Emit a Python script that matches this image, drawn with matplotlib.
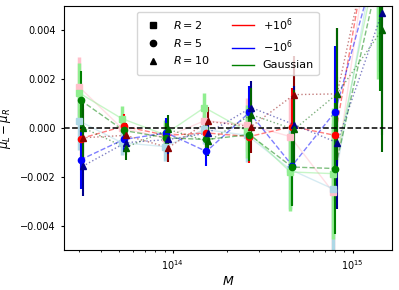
import matplotlib
matplotlib.use("Agg")
import matplotlib.pyplot as plt
from matplotlib.lines import Line2D

# centros de los bines de masa
masa = [3.0e13, 5.2e13, 9.0e13, 1.5e14, 2.6e14, 4.5e14, 7.8e14, 1.38e15]

# R = 2 (cuadrados)
r2_mas = [0.0017, 0.0000, -0.0004, 0.0003, 0.00014, -0.00035, -0.00264, 0.0103]
r2_menos = [0.0003, -0.0006, -0.00076, -0.00006, -0.0003, -0.0017, -0.0025, 0.0078]
r2_gauss = [0.00145, 0.00039, -0.00027, 0.00084, -0.00014, -0.0018, -0.00187, 0.0070]

# R = 5 (circulos)
r5_mas = [-0.00043, 0.00007, -0.0003, -0.0002, -0.00035, 0.00006, -0.0003, 0.0103]
r5_menos = [-0.0013, -0.00047, -0.0002, -0.00096, 0.00064, -0.00154, 0.00067, 0.0073]
r5_gauss = [0.00114, -0.0001, -0.0004, -0.00047, -0.00027, -0.0016, -0.00166, 0.0065]

# R = 10 (triangulos)
r10_mas = [-0.0004, -0.0003, -0.0008, 0.00027, 0.00006, 0.00137, 0.0014, 0.0098]
r10_menos = [-0.00157, -0.0006, -0.00047, -0.0002, 0.00084, 0.00014, -0.0006, 0.0047]
r10_gauss = [0.00002, -0.0008, -0.00006, -0.00055, 0.00055, -0.00006, 0.0014, 0.0040]

# barras de error por bin
error = [0.0012, 0.0005, 0.0006, 0.0006, 0.0011, 0.0016, 0.0027, 0.0050]

series = [
    (r2_mas, "pink", "s", "-", 1.0),
    (r2_menos, "lightblue", "s", "-", 1.0),
    (r2_gauss, "lightgreen", "s", "-", 1.0),
    (r5_mas, "red", "o", "--", 1.025),
    (r5_menos, "blue", "o", "--", 1.025),
    (r5_gauss, "green", "o", "--", 1.025),
    (r10_mas, "darkred", "^", ":", 1.05),
    (r10_menos, "darkblue", "^", ":", 1.05),
    (r10_gauss, "darkgreen", "^", ":", 1.05),
]

fig = plt.figure(figsize=(3.99, 2.9), dpi=100)
ax = fig.add_axes([0.160, 0.138, 0.822, 0.841])

for valores, color, marca, estilo, corr in series:
    x = [m * corr for m in masa]
    ax.plot(x, valores, color=color, ls=estilo, lw=1.0, alpha=0.5)
    ax.errorbar(x, valores, yerr=error, fmt=marca, color=color, ms=4.5,
                elinewidth=2.5 if marca == "s" else 1.5, capsize=0)

ax.axhline(0, color="black", ls="--", lw=1.1)
ax.set_xscale("log")
ax.set_xlim(2.48e13, 1.65e15)
ax.set_ylim(-0.005, 0.005)
ax.set_yticks([-0.004, -0.002, 0.0, 0.002, 0.004])
ax.tick_params(labelsize=7, length=2.5)
ax.tick_params(which="minor", length=1.5)
ax.set_xlabel("$M$", fontsize=9, labelpad=2)
ax.set_ylabel(r"$\mu_L - \mu_R$", fontsize=8.5, labelpad=5)

manejadores = [
    Line2D([], [], color="black", marker="s", ms=4.5, ls="none", label="$R=2$"),
    Line2D([], [], color="black", marker="o", ms=4.5, ls="none", label="$R=5$"),
    Line2D([], [], color="black", marker="^", ms=4.5, ls="none", label="$R=10$"),
    Line2D([], [], color="red", lw=1.0, label="$+10^6$"),
    Line2D([], [], color="blue", lw=1.0, label="$-10^6$"),
    Line2D([], [], color="green", lw=1.0, label="Gaussian"),
]
ax.legend(handles=manejadores, loc="upper center", ncol=2, fontsize=8,
          bbox_to_anchor=(0.5, 1.0))

fig.savefig("out.png", dpi=100)
